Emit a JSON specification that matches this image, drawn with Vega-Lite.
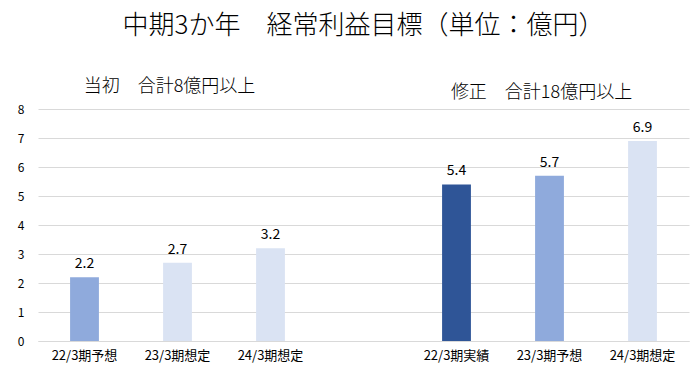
{
  "$schema": "https://vega.github.io/schema/vega-lite/v6.json",
  "autosize": "none",
  "width": 651,
  "height": 232,
  "padding": {"left": 38, "top": 109, "right": 8, "bottom": 37},
  "background": "#ffffff",
  "config": {
    "view": {"stroke": null},
    "font": "Noto Sans CJK JP"
  },
  "title": {
    "text": "中期3か年　経常利益目標（単位：億円）",
    "font": "Noto Sans CJK JP",
    "fontSize": 26,
    "fontWeight": 300,
    "color": "#000000",
    "anchor": "middle",
    "offset": 39
  },
  "datasets": {
    "bars": [
      {"key": "当初|22/3期予想", "種別": "予想", "value": 2.2},
      {"key": "当初|23/3期想定", "種別": "想定", "value": 2.7},
      {"key": "当初|24/3期想定", "種別": "想定", "value": 3.2},
      {"key": "修正|22/3期実績", "種別": "実績", "value": 5.4},
      {"key": "修正|23/3期予想", "種別": "予想", "value": 5.7},
      {"key": "修正|24/3期想定", "種別": "想定", "value": 6.9}
    ],
    "notes": [
      {"key": "当初|23/3期想定", "value": 8.75, "label": "当初　合計8億円以上"},
      {"key": "修正|23/3期予想", "value": 8.55, "label": "修正　合計18億円以上"}
    ]
  },
  "encoding": {
    "x": {
      "field": "key",
      "type": "nominal",
      "sort": null,
      "scale": {
        "domain": ["当初|22/3期予想", "当初|23/3期想定", "当初|24/3期想定", "gap", "修正|22/3期実績", "修正|23/3期予想", "修正|24/3期想定"],
        "paddingInner": 0.69,
        "paddingOuter": 0.345
      },
      "axis": {
        "title": null,
        "labelAngle": 0,
        "labelExpr": "indexof(datum.value, '|') > 0 ? split(datum.value, '|')[1] : ''",
        "labelFontSize": 13,
        "labelColor": "#000000",
        "labelPadding": 8,
        "ticks": false,
        "domainColor": "#D9D9D9",
        "domainWidth": 1,
        "grid": false
      }
    },
    "y": {
      "field": "value",
      "type": "quantitative",
      "scale": {"domain": [0, 8], "nice": false},
      "axis": {
        "title": null,
        "values": [0, 1, 2, 3, 4, 5, 6, 7, 8],
        "labelOverlap": false,
        "labelFontSize": 12,
        "labelColor": "#000000",
        "labelPadding": 14,
        "ticks": false,
        "domain": false,
        "gridColor": "#D9D9D9",
        "gridWidth": 1
      }
    }
  },
  "layer": [
    {
      "data": {"name": "bars"},
      "mark": {"type": "bar"},
      "encoding": {
        "color": {
          "field": "種別",
          "type": "nominal",
          "scale": {"domain": ["実績", "予想", "想定"], "range": ["#2F5597", "#8FAADC", "#DAE3F3"]},
          "legend": null
        }
      }
    },
    {
      "data": {"name": "bars"},
      "mark": {"type": "text", "baseline": "bottom", "dy": -6, "fontSize": 14, "color": "#000000"},
      "encoding": {
        "text": {"field": "value", "type": "quantitative", "format": ".1f"}
      }
    },
    {
      "data": {"name": "notes"},
      "mark": {"type": "text", "baseline": "middle", "fontSize": 18, "fontWeight": 300, "color": "#000000", "dx": -8},
      "encoding": {
        "text": {"field": "label"}
      }
    }
  ]
}
